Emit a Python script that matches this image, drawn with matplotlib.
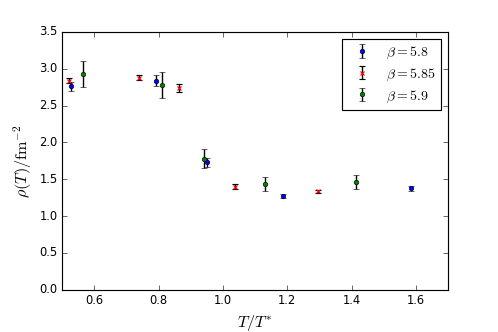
import matplotlib
matplotlib.use("Agg")
import matplotlib.pyplot as plt

plt.style.use("classic")

# beta = 5.8
t_58 = [0.528, 0.792, 0.949, 1.187, 1.583]
rho_58 = [2.76, 2.84, 1.73, 1.275, 1.375]
err_58 = [0.06, 0.07, 0.06, 0.03, 0.04]

# beta = 5.85
t_585 = [0.520, 0.740, 0.864, 1.036, 1.294]
rho_585 = [2.84, 2.88, 2.74, 1.40, 1.34]
err_585 = [0.03, 0.03, 0.05, 0.03, 0.02]

# beta = 5.9
t_59 = [0.566, 0.810, 0.942, 1.131, 1.414]
rho_59 = [2.93, 2.78, 1.78, 1.44, 1.46]
err_59 = [0.18, 0.18, 0.125, 0.095, 0.095]

fig = plt.figure(figsize=(6, 4), dpi=83)
ax = fig.add_axes([0.125, 0.127, 0.775, 0.777])

ax.errorbar(t_58, rho_58, yerr=err_58, fmt="o", color="blue", ecolor="black",
            markersize=4, markeredgewidth=0.5, capsize=3, capthick=1.5,
            elinewidth=1.2, label=r"$\beta=5.8$")
ax.errorbar(t_585, rho_585, yerr=err_585, fmt="x", color="red", ecolor="black",
            markersize=4, markeredgewidth=1.0, capsize=3, capthick=1.5,
            elinewidth=1.2, label=r"$\beta=5.85$")
ax.errorbar(t_59, rho_59, yerr=err_59, fmt="o", color="green", ecolor="black",
            markersize=4, markeredgewidth=0.5, capsize=3, capthick=1.5,
            elinewidth=1.2, label=r"$\beta=5.9$")

ax.set_xlim(0.5, 1.7)
ax.set_ylim(0.0, 3.5)
ax.set_xticks([0.6, 0.8, 1.0, 1.2, 1.4, 1.6])
ax.set_yticks([0.0, 0.5, 1.0, 1.5, 2.0, 2.5, 3.0, 3.5])
ax.tick_params(labelsize=10)

ax.set_xlabel(r"$T/T^{*}$", fontsize=14)
ax.set_ylabel(r"$\rho(T)/\mathrm{fm}^{-2}$", fontsize=14)

ax.legend(loc="upper right", numpoints=1, fontsize=12, labelspacing=0.4)

fig.savefig("out.png", dpi=83)
